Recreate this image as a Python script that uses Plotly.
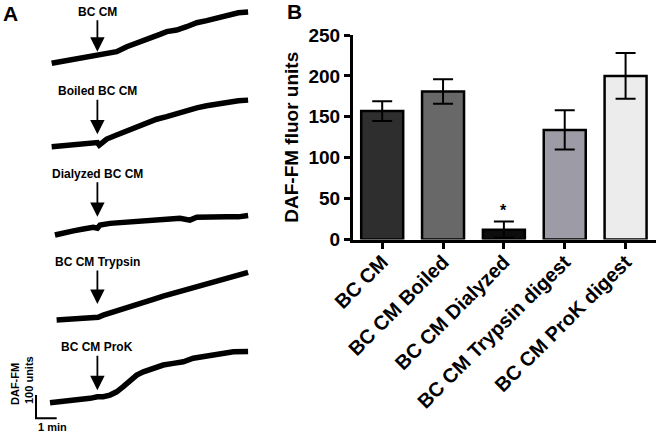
import plotly.graph_objects as go

# ---------------- Panel B data ----------------
CATEGORIES = ["BC CM", "BC CM Boiled", "BC CM Dialyzed", "BC CM Trypsin digest", "BC CM ProK digest"]
MEANS = [157, 181, 12, 134, 200]
SEMS = [12, 15, 10, 24, 28]
BAR_COLORS = ["#2e2e2e", "#686868", "#0d0d0d", "#9d9ca6", "#ececec"]

# ---------------- Panel A data (time in min, DAF-FM units relative to start) ----------------
TRACE_LABELS = ["BC CM", "Boiled BC CM", "Dialyzed BC CM", "BC CM Trypsin", "BC CM ProK"]
INJECT_TIME = 2.29

T1 = [0.08, 0.48, 1.13, 1.77, 2.26, 2.74, 3.22, 3.71, 4.19, 4.83, 5.31, 5.64, 6.12, 6.60, 7.09, 7.57, 8.05, 8.54, 9.10, 9.57]
F1 = [0, 7, 14, 26, 36, 43, 50, 71, 86, 103, 124, 136, 143, 157, 174, 183, 193, 203, 217, 220]

T2 = [0.08, 0.64, 1.13, 1.61, 2.09, 2.29, 2.38, 2.74, 3.22, 3.71, 4.19, 4.67, 5.15, 5.64, 6.12, 6.60, 7.09, 7.57, 8.05, 8.54, 9.10, 9.57]
F2 = [0, 4, 7, 10, 15, 18, 7, 33, 50, 67, 86, 103, 118, 129, 143, 157, 167, 176, 183, 191, 197, 200]

T3 = [0.24, 0.64, 1.13, 1.61, 2.09, 2.29, 2.42, 2.90, 3.38, 3.86, 4.35, 4.83, 5.31, 5.80, 6.28, 6.76, 7.09, 7.57, 8.05, 8.54, 9.10, 9.57]
F3 = [0, 10, 18, 26, 33, 29, 43, 50, 54, 57, 61, 64, 67, 69, 72, 64, 76, 78, 76, 78, 78, 84]

T4 = [0.32, 0.81, 1.29, 1.77, 2.33, 2.57, 3.06, 3.54, 4.02, 4.51, 4.99, 5.47, 5.96, 6.44, 6.92, 7.41, 7.89, 8.37, 8.78, 9.10, 9.57]
F4 = [0, 4, 7, 10, 12, 21, 36, 50, 64, 76, 89, 103, 115, 129, 140, 153, 164, 175, 183, 193, 205]

T5 = [0.00, 0.48, 0.97, 1.45, 1.93, 2.29, 2.57, 2.90, 3.22, 3.54, 3.86, 4.19, 4.51, 4.99, 5.47, 5.96, 6.44, 6.92, 7.41, 7.89, 8.37, 8.86, 9.57]
F5 = [0, 4, 9, 15, 19, 26, 26, 33, 47, 69, 97, 119, 133, 148, 162, 169, 176, 191, 197, 205, 212, 219, 220]

TRACES_T = [T1, T2, T3, T4, T5]
TRACES_F = [F1, F2, F3, F4, F5]

# ---------------- layout constants (positions / styles) ----------------
W, H = 656, 434
FONT = "Liberation Sans, Arial, Helvetica, sans-serif"
STACK_OFFSETS = [1591, 1233, 854, 489, 134]      # vertical stacking of traces (units)
ARROW_TIP = [50, 53, 78, 69, 54]                 # arrow tip above each trace start (units)
ARROW_AY = [-40, -43, -43, -42, -43]
A_XRANGE = [-2.415, 9.662]
A_YRANGE = [0, 1862.7]

fig = go.Figure()

# Panel B bars
fig.add_trace(go.Bar(
    x=CATEGORIES, y=MEANS,
    marker=dict(color=BAR_COLORS, line=dict(color="black", width=2.5)),
    width=0.69,
    error_y=dict(type="data", array=SEMS, visible=True, color="black", thickness=2, width=10),
    xaxis="x", yaxis="y", showlegend=False,
))

# Panel A traces
for t, f, off in zip(TRACES_T, TRACES_F, STACK_OFFSETS):
    fig.add_trace(go.Scatter(
        x=t, y=[v + off for v in f], mode="lines",
        line=dict(color="black", width=5.5),
        xaxis="x2", yaxis="y2", showlegend=False, hoverinfo="skip",
    ))

# Scale bar: 1 min horizontal, 100 units vertical
SB_T0, SB_U0 = -0.676, 67.4
fig.add_trace(go.Scatter(
    x=[SB_T0, SB_T0, SB_T0 + 1], y=[SB_U0 + 100, SB_U0, SB_U0], mode="lines",
    line=dict(color="black", width=2), xaxis="x2", yaxis="y2", showlegend=False, hoverinfo="skip",
))

annotations = []
for lab, off, tip, ay in zip(TRACE_LABELS, STACK_OFFSETS, ARROW_TIP, ARROW_AY):
    annotations.append(dict(
        x=INJECT_TIME, y=off + tip, xref="x2", yref="y2",
        text=lab, showarrow=True, arrowhead=2, arrowsize=1.6, arrowwidth=1.8,
        arrowcolor="black", ax=0, ay=ay, standoff=0,
        font=dict(family=FONT, size=12, color="black", weight="bold"),
    ))

def px_ann(text, x, y, size, angle=0):
    return dict(text=text, x=x / W, y=1 - y / H, xref="paper", yref="paper",
                showarrow=False, textangle=angle, xanchor="center", yanchor="middle",
                font=dict(family=FONT, size=size, color="black", weight="bold"))

annotations += [
    px_ann("A", 10, 14, 21),
    px_ann("B", 294.5, 12, 21),
    px_ann("DAF-FM", 15, 384, 11, -90),
    px_ann("100 units", 29, 380, 11, -90),
    px_ann("1 min", 52, 427, 11),
    dict(text="*", x=2, y=36, xref="x", yref="y", showarrow=False,
         font=dict(family=FONT, size=16, color="black", weight="bold")),
]

fig.update_layout(
    width=W, height=H,
    margin=dict(l=0, r=0, t=0, b=0, autoexpand=False),
    paper_bgcolor="white", plot_bgcolor="white",
    font=dict(family=FONT, color="black"),
    bargap=0.3,
    xaxis=dict(
        domain=[353 / W, 1.0], anchor="y", type="category", range=[-0.48, 4.5],
        showline=True, linewidth=3, linecolor="black", ticks="outside", ticklen=6,
        tickwidth=2.5, tickcolor="black", tickangle=-45, showgrid=False, zeroline=False,
        automargin=False, ticklabelstandoff=-6,
        tickfont=dict(family=FONT, size=20, color="black", weight="bold"),
    ),
    yaxis=dict(
        domain=[1 - 239.5 / H, 1 - 35 / H], anchor="x", range=[0, 250], dtick=50,
        showline=True, linewidth=3, linecolor="black", ticks="outside", ticklen=6,
        tickwidth=2.5, tickcolor="black", showgrid=False, zeroline=False,
        automargin=False,
        tickfont=dict(family=FONT, size=19, color="black", weight="bold"),
        title=dict(text="DAF-FM fluor units", standoff=5,
                   font=dict(family=FONT, size=19, color="black", weight="bold")),
    ),
    xaxis2=dict(domain=[0, 250 / W], anchor="y2", range=A_XRANGE, visible=False, automargin=False),
    yaxis2=dict(domain=[0, 1], anchor="x2", range=A_YRANGE, visible=False, automargin=False),
    annotations=annotations,
)

fig.write_html("out.html", config={"displayModeBar": False},
               post_script="document.body.style.margin='0px';")
